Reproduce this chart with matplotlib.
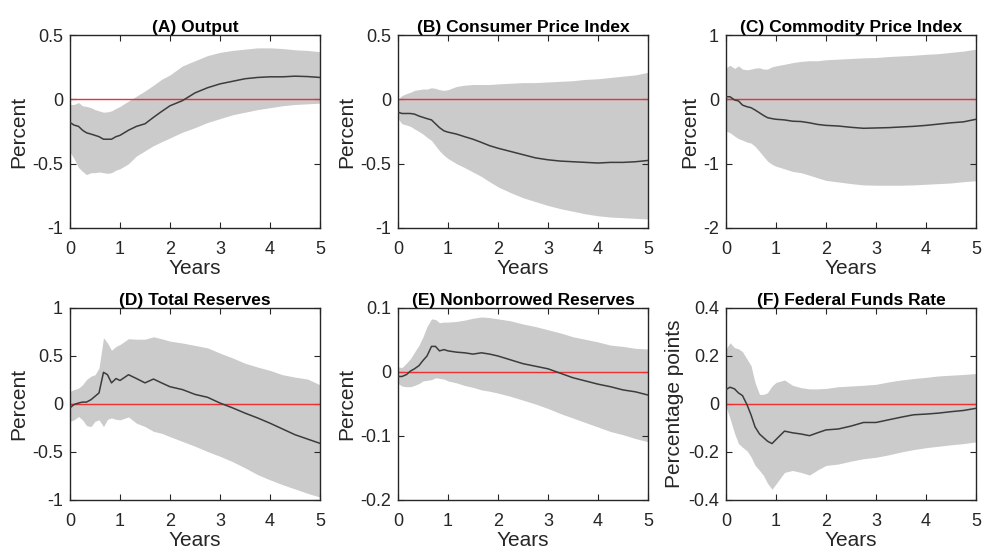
#!/usr/bin/env python3

# Impulse responses to a monetary policy shock, six panels with error bands

import matplotlib.pyplot as plt

plt.rcParams['font.family'] = ['Liberation Sans', 'DejaVu Sans']

YEARS = [0, 0.08, 0.17, 0.25, 0.33, 0.42, 0.5, 0.58, 0.67, 0.75, 0.83, 0.92,
         1.0, 1.17, 1.33, 1.5, 1.67, 1.83, 2.0, 2.25, 2.5, 2.75, 3.0, 3.25,
         3.5, 3.75, 4.0, 4.25, 4.5, 4.75, 5.0]

# (A) Output
output_mid = [-0.18, -0.2, -0.21, -0.24, -0.26, -0.27, -0.28, -0.29, -0.31, -0.31, -0.31, -0.29,
              -0.28, -0.24, -0.21, -0.19, -0.14, -0.095, -0.05, -0.01, 0.05, 0.09, 0.12, 0.14,
              0.16, 0.17, 0.175, 0.175, 0.18, 0.177, 0.17]
output_hi = [-0.04, -0.04, -0.025, -0.05, -0.055, -0.065, -0.08, -0.09, -0.1, -0.097, -0.09, -0.07,
             -0.055, -0.013, 0.025, 0.065, 0.11, 0.155, 0.19, 0.26, 0.3, 0.34, 0.365, 0.38,
             0.39, 0.4, 0.4, 0.395, 0.385, 0.38, 0.37]
output_lo = [-0.41, -0.46, -0.53, -0.56, -0.585, -0.57, -0.57, -0.565, -0.57, -0.575, -0.57, -0.55,
             -0.54, -0.5, -0.44, -0.4, -0.36, -0.33, -0.3, -0.255, -0.22, -0.18, -0.15, -0.12,
             -0.1, -0.08, -0.065, -0.05, -0.04, -0.035, -0.03]

# (B) Consumer Price Index
cpi_mid = [-0.1, -0.11, -0.11, -0.11, -0.115, -0.13, -0.14, -0.15, -0.16, -0.19, -0.22, -0.245,
           -0.255, -0.27, -0.29, -0.31, -0.335, -0.36, -0.38, -0.405, -0.43, -0.455, -0.47, -0.48,
           -0.485, -0.49, -0.495, -0.49, -0.49, -0.485, -0.475]
cpi_hi = [0.0, 0.03, 0.045, 0.055, 0.07, 0.075, 0.08, 0.08, 0.09, 0.085, 0.075, 0.07,
          0.075, 0.1, 0.11, 0.115, 0.115, 0.115, 0.12, 0.125, 0.13, 0.13, 0.135, 0.14,
          0.145, 0.155, 0.16, 0.17, 0.18, 0.19, 0.21]
cpi_lo = [-0.15, -0.19, -0.2, -0.21, -0.23, -0.25, -0.27, -0.295, -0.32, -0.36, -0.4, -0.435,
          -0.46, -0.5, -0.53, -0.565, -0.6, -0.64, -0.68, -0.725, -0.765, -0.795, -0.825, -0.85,
          -0.87, -0.89, -0.905, -0.915, -0.92, -0.925, -0.93]

# (C) Commodity Price Index
pcom_mid = [0.04, 0.04, -0.01, -0.025, -0.09, -0.115, -0.13, -0.165, -0.21, -0.25, -0.285, -0.3,
            -0.31, -0.32, -0.34, -0.345, -0.365, -0.39, -0.405, -0.415, -0.435, -0.45, -0.445, -0.44,
            -0.43, -0.42, -0.405, -0.385, -0.365, -0.35, -0.31]
pcom_hi = [0.49, 0.53, 0.48, 0.52, 0.47, 0.46, 0.47, 0.485, 0.49, 0.47, 0.47, 0.505,
           0.52, 0.545, 0.57, 0.59, 0.6, 0.6, 0.615, 0.625, 0.635, 0.645, 0.65, 0.665,
           0.675, 0.685, 0.7, 0.71, 0.73, 0.75, 0.78]
pcom_lo = [-0.49, -0.52, -0.57, -0.61, -0.635, -0.665, -0.68, -0.73, -0.81, -0.885, -0.96, -1.01,
           -1.04, -1.08, -1.12, -1.14, -1.18, -1.22, -1.26, -1.285, -1.31, -1.33, -1.335, -1.335,
           -1.335, -1.33, -1.32, -1.31, -1.3, -1.28, -1.265]

# (D) Total Reserves
tr_mid = [-0.04, -0.005, 0.01, 0.02, 0.02, 0.045, 0.08, 0.115, 0.33, 0.305, 0.22, 0.265,
          0.245, 0.305, 0.265, 0.22, 0.26, 0.22, 0.18, 0.15, 0.1, 0.07, 0.01, -0.04,
          -0.095, -0.145, -0.2, -0.26, -0.32, -0.365, -0.41]
tr_hi = [0.13, 0.15, 0.165, 0.2, 0.255, 0.29, 0.305, 0.375, 0.69, 0.635, 0.56, 0.6,
         0.62, 0.68, 0.675, 0.675, 0.7, 0.68, 0.655, 0.635, 0.61, 0.585, 0.53, 0.48,
         0.425, 0.385, 0.35, 0.305, 0.28, 0.26, 0.2]
tr_lo = [-0.18, -0.165, -0.13, -0.165, -0.225, -0.235, -0.18, -0.165, -0.235, -0.16, -0.145, -0.16,
         -0.165, -0.135, -0.2, -0.235, -0.285, -0.305, -0.34, -0.39, -0.44, -0.495, -0.545, -0.6,
         -0.665, -0.735, -0.79, -0.84, -0.885, -0.93, -0.97]

# (E) Nonborrowed Reserves
nbr_mid = [-0.007, -0.007, -0.004, 0.0015, 0.005, 0.01, 0.018, 0.025, 0.04, 0.04, 0.033, 0.035,
           0.033, 0.031, 0.03, 0.028, 0.03, 0.028, 0.025, 0.019, 0.013, 0.009, 0.005, -0.002,
           -0.009, -0.014, -0.019, -0.023, -0.028, -0.031, -0.036]
nbr_hi = [0.008, 0.007, 0.014, 0.021, 0.031, 0.042, 0.055, 0.071, 0.083, 0.082, 0.077, 0.078,
          0.078, 0.079, 0.081, 0.084, 0.086, 0.085, 0.083, 0.08, 0.075, 0.071, 0.066, 0.061,
          0.055, 0.051, 0.047, 0.042, 0.04, 0.037, 0.036]
nbr_lo = [-0.018, -0.022, -0.023, -0.023, -0.021, -0.018, -0.014, -0.013, -0.012, -0.009, -0.01, -0.011,
          -0.014, -0.017, -0.021, -0.024, -0.028, -0.03, -0.033, -0.038, -0.044, -0.05, -0.057, -0.065,
          -0.072, -0.079, -0.086, -0.093, -0.098, -0.104, -0.109]

# (F) Federal Funds Rate
ffr_mid = [0.06, 0.07, 0.063, 0.046, 0.035, -0.003, -0.045, -0.095, -0.125, -0.14, -0.155, -0.165,
           -0.148, -0.113, -0.12, -0.125, -0.132, -0.12, -0.108, -0.104, -0.092, -0.077, -0.077, -0.066,
           -0.055, -0.045, -0.042, -0.038, -0.032, -0.027, -0.018]
ffr_hi = [0.23, 0.255, 0.235, 0.23, 0.218, 0.187, 0.16, 0.09, 0.04, 0.04, 0.047, 0.075,
          0.09, 0.1, 0.078, 0.068, 0.063, 0.063, 0.065, 0.072, 0.075, 0.078, 0.082, 0.092,
          0.1, 0.106, 0.111, 0.117, 0.12, 0.123, 0.127]
ffr_lo = [-0.01, -0.06, -0.122, -0.165, -0.18, -0.195, -0.22, -0.255, -0.277, -0.298, -0.33, -0.355,
          -0.333, -0.285, -0.277, -0.285, -0.296, -0.275, -0.256, -0.25, -0.238, -0.228, -0.222, -0.212,
          -0.2, -0.19, -0.182, -0.176, -0.17, -0.165, -0.158]

TITLES = ['(A) Output', '(B) Consumer Price Index', '(C) Commodity Price Index',
          '(D) Total Reserves', '(E) Nonborrowed Reserves', '(F) Federal Funds Rate']
YLABELS = ['Percent'] * 5 + ['Percentage points']
YLIMS = [(-1, 0.5), (-1, 0.5), (-2, 1), (-1, 1), (-0.2, 0.1), (-0.4, 0.4)]
YTICKS = [[-1, -0.5, 0, 0.5], [-1, -0.5, 0, 0.5], [-2, -1, 0, 1],
          [-1, -0.5, 0, 0.5, 1], [-0.2, -0.1, 0, 0.1], [-0.4, -0.2, 0, 0.2, 0.4]]

panels = [
    (output_mid, output_lo, output_hi),
    (cpi_mid, cpi_lo, cpi_hi),
    (pcom_mid, pcom_lo, pcom_hi),
    (tr_mid, tr_lo, tr_hi),
    (nbr_mid, nbr_lo, nbr_hi),
    (ffr_mid, ffr_lo, ffr_hi),
]

W, H = 984, 549
fig = plt.figure(figsize=(W / 100, H / 100), dpi=100)

lefts = [70, 398, 726]
rows = [(35, 228), (308, 500)]
dark = '#262626'

for i, (mid, lo, hi) in enumerate(panels):
    top, bottom = rows[i // 3]
    left = lefts[i % 3]
    ax = fig.add_axes([left / W, 1 - bottom / H, 250 / W, (bottom - top) / H])

    ax.fill_between(YEARS, lo, hi, color='#cbcbcb', linewidth=0, zorder=1)
    ax.axhline(0, color='#f03030', linewidth=1.0, zorder=2)
    ax.plot(YEARS, mid, color='#3c3c3c', linewidth=1.1, zorder=3)

    ax.set_xlim(0, 5)
    ax.set_ylim(*YLIMS[i])
    ax.set_xticks(range(6))
    ax.set_yticks(YTICKS[i])
    ax.set_yticklabels([f'{t:g}' for t in YTICKS[i]])

    ax.tick_params(direction='in', top=True, right=True, length=4, width=0.8,
                   colors=dark, labelsize=13)
    ax.tick_params(axis='x', pad=9)
    ax.tick_params(axis='y', pad=5)
    for s in ax.spines.values():
        s.set_color(dark)
        s.set_linewidth(1.0)

    ax.set_title(TITLES[i], fontsize=12.5, fontweight='bold', color='black', pad=2)
    ax.set_xlabel('Years', fontsize=15, color=dark, labelpad=1)
    ax.set_ylabel(YLABELS[i], fontsize=15, color=dark, labelpad=3)

fig.savefig('out.png', dpi=100)
